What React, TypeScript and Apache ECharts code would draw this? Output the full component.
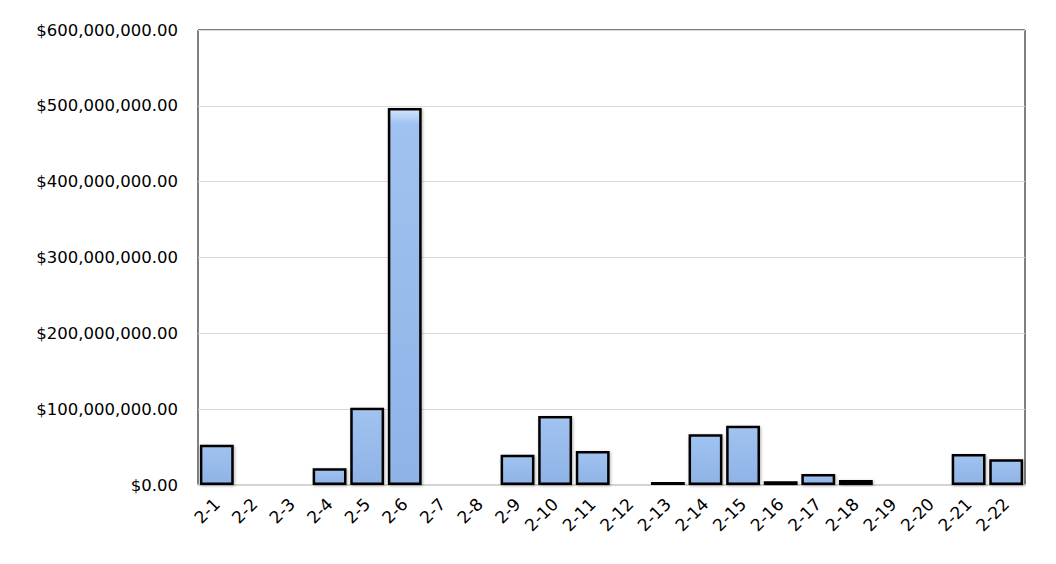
import React, { useEffect, useRef } from "react";
import * as echarts from "echarts";

const categories = ["2-1","2-2","2-3","2-4","2-5","2-6","2-7","2-8","2-9","2-10","2-11","2-12","2-13","2-14","2-15","2-16","2-17","2-18","2-19","2-20","2-21","2-22"];
const amounts = [53000000, 0, 0, 22000000, 102000000, 497000000, 0, 0, 40000000, 91000000, 45000000, 0, 4000000, 67000000, 78000000, 5000000, 14500000, 6500000, 0, 0, 41000000, 34000000];
const yTicks = { min: 0, max: 600000000, interval: 100000000 };

function fmt(v: number) {
  return "$" + v.toLocaleString("en-US", { minimumFractionDigits: 2, maximumFractionDigits: 2 });
}

export default function App() {
  const ref = useRef<HTMLDivElement>(null);
  useEffect(() => {
    const chart = echarts.init(ref.current!, null, { renderer: "svg" });
    chart.setOption({
      animation: false,
      grid: { left: 198, right: 31, top: 30, bottom: 79, show: true, borderColor: "#000", borderWidth: 1, backgroundColor: "#fff" },
      xAxis: {
        type: "category",
        data: categories,
        axisLine: { show: true, lineStyle: { color: "#d4d4d4", width: 2 } },
        axisTick: { show: false },
        axisLabel: { rotate: 45, fontFamily: "DejaVu Sans", fontSize: 17, color: "#000", margin: 16, interval: 0 },
      },
      yAxis: {
        type: "value",
        min: yTicks.min,
        max: yTicks.max,
        interval: yTicks.interval,
        axisLine: { show: false },
        axisTick: { show: false },
        splitLine: { lineStyle: { color: "#d9d9d9", width: 1 } },
        axisLabel: { formatter: fmt, fontFamily: "DejaVu Sans", fontSize: 16.5, color: "#000", margin: 20 },
      },
      series: [
        {
          type: "bar",
          data: amounts,
          barCategoryGap: "10%",
          itemStyle: {
            color: {
              type: "linear", x: 0, y: 0, x2: 0, y2: 1,
              colorStops: [
                { offset: 0, color: "#d2e4fb" },
                { offset: 0.04, color: "#9fc2f0" },
                { offset: 1, color: "#8fb3e6" },
              ],
            },
            borderColor: "#000",
            borderWidth: 2.5,
            shadowColor: "rgba(0,0,0,0.3)",
            shadowBlur: 3,
            shadowOffsetX: 1,
            shadowOffsetY: 1,
          },
        },
      ],
    });
    return () => chart.dispose();
  }, []);
  return <div ref={ref} style={{ position: "fixed", left: 0, top: 0, width: 1056, height: 564, background: "#fff" }} />;
}
